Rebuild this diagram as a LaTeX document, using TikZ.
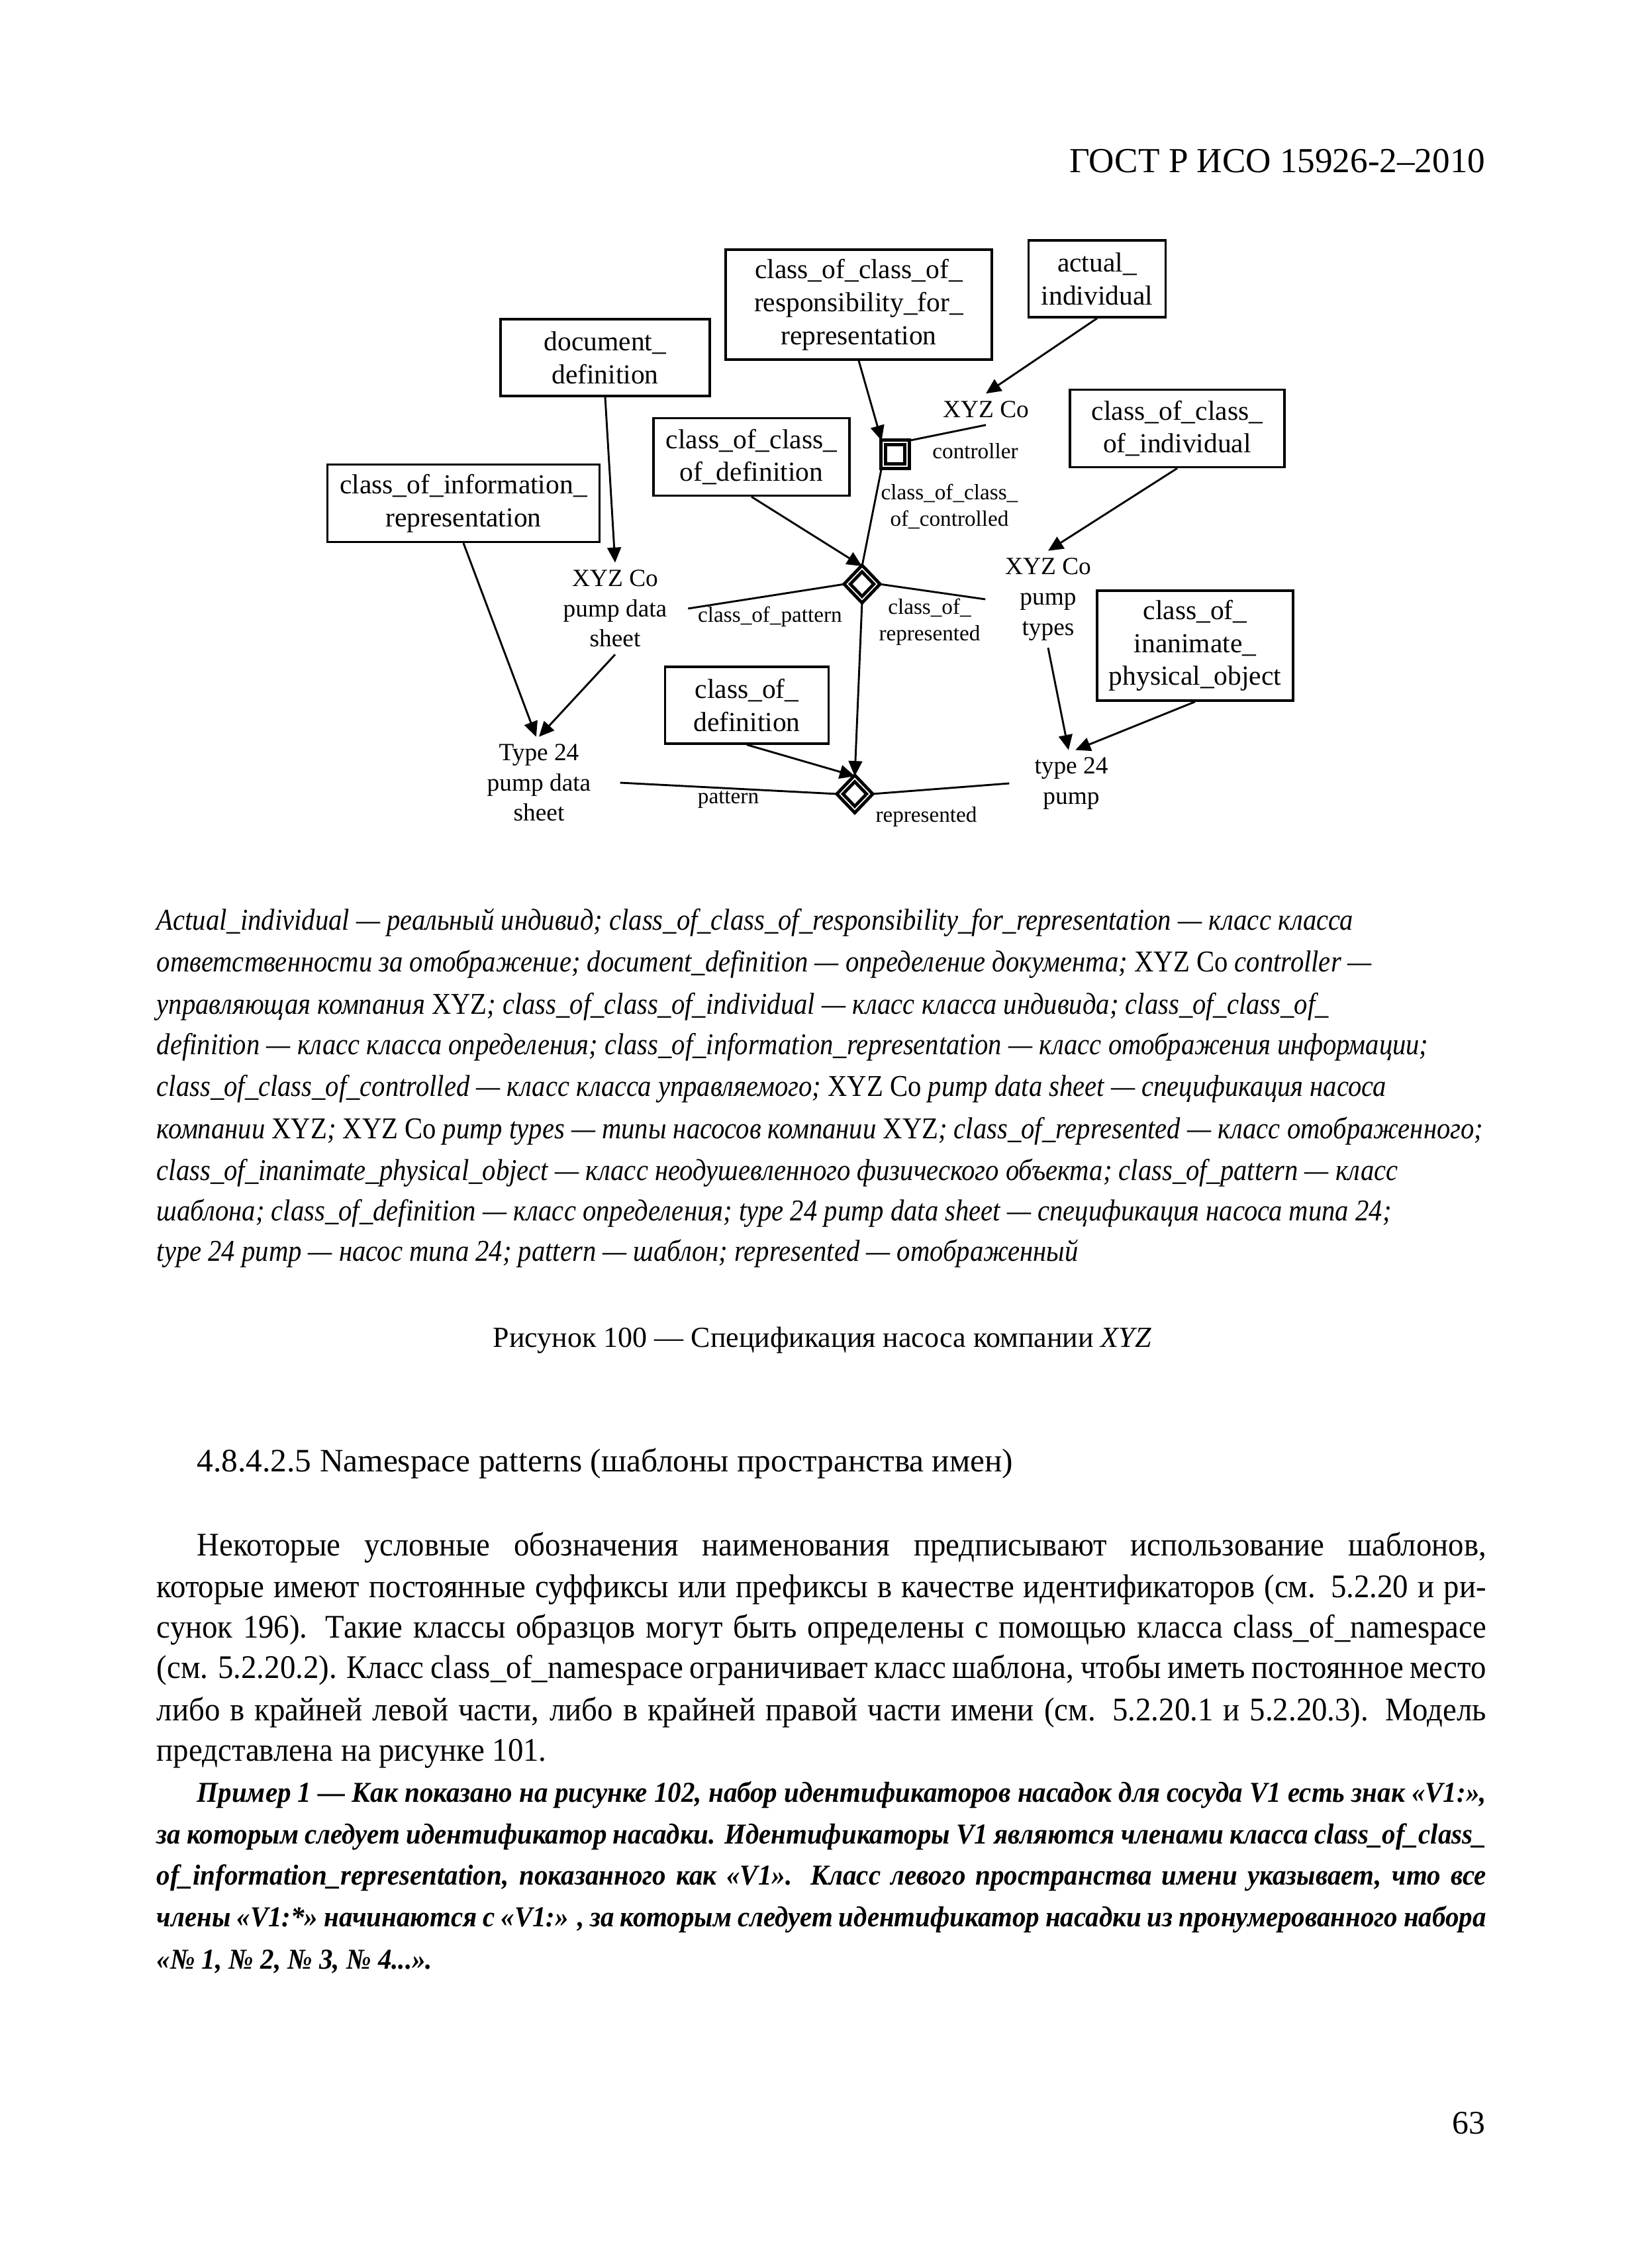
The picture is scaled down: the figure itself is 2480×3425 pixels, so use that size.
\documentclass[tikz,border=0pt]{standalone}
\usepackage{fontspec}
\setmainfont{Liberation Serif}
\newfontfamily\legfont[FakeStretch=0.89]{Liberation Serif}
\newfontfamily\bodyfont[FakeStretch=0.94]{Liberation Serif}
\usetikzlibrary{arrows.meta, shapes.geometric}
\newlength{\pxl}
\setlength{\pxl}{0.0084677cm}
\newcommand{\fullline}[2][2008]{\makebox[#1\pxl][s]{#2}}
\tikzset{
  cls/.style={draw, line width=0.8pt, align=center, inner sep=0pt, font=\fontsize{10}{12}\selectfont},
  lbl/.style={align=center, inner sep=2.5pt, font=\fontsize{9}{11}\selectfont},
  rol/.style={align=center, inner sep=1pt, font=\fontsize{8}{9.6}\selectfont},
  rel/.style={draw, double, double distance=0.4pt, line width=1.2pt, inner sep=0pt},
  arr/.style={-{Triangle[length=5.5pt, width=5pt]}, line width=0.7pt},
  lnk/.style={line width=0.7pt},
  legend/.style={anchor=base west, inner sep=0pt, font=\legfont\fontsize{11}{13}\selectfont\itshape},
  body/.style={anchor=base west, inner sep=0pt, font=\bodyfont\fontsize{12}{15}\selectfont},
  exm/.style={anchor=base west, inner sep=0pt, font=\bodyfont\fontsize{10.5}{13}\selectfont\bfseries\itshape}
}

\begin{document}
\begin{tikzpicture}[x=\pxl, y=-\pxl]
  \fill[white] (0,0) rectangle (2480,3425);
  \useasboundingbox (0,0) rectangle (2480,3425);
  \node[anchor=base east, inner sep=0pt, font=\fontsize{12.8}{15}\selectfont] (hdr) at (2244,260) {ГОСТ Р ИСО 15926-2–2010};
  % classes
  \node[cls, minimum width=402\pxl, minimum height=166\pxl] (cocrr) at (1297,460) {class\_of\_class\_of\_\\responsibility\_for\_\\representation};
  \node[cls, minimum width=316\pxl, minimum height=116\pxl] (docdef) at (914,540) {document\_\\definition};
  \node[cls, minimum width=411\pxl, minimum height=117\pxl] (coir) at (700,760) {class\_of\_information\_\\representation};
  \node[cls, minimum width=296\pxl, minimum height=117\pxl] (cocd) at (1135,690) {class\_of\_class\_\\of\_definition};
  \node[cls, minimum width=207\pxl, minimum height=116\pxl] (actual) at (1657,421) {actual\_\\individual};
  \node[cls, minimum width=324\pxl, minimum height=117\pxl] (cocoi) at (1778,647) {class\_of\_class\_\\of\_individual};
  \node[cls, minimum width=296\pxl, minimum height=166\pxl] (coipo) at (1805,975) {class\_of\_\\inanimate\_\\physical\_object};
  \node[cls, minimum width=247\pxl, minimum height=116\pxl] (cod) at (1128,1065) {class\_of\_\\definition};
  % individuals
  \node[lbl] (xyzc) at (1489,618) {XYZ Co};
  \node[lbl] (pds) at (929,919) {XYZ Co\\pump data\\sheet};
  \node[lbl] (pt) at (1583,905) {XYZ Co\\pump\\types};
  \node[lbl] (t24s) at (814,1182) {Type 24\\pump data\\sheet};
  \node[lbl] (t24p) at (1618,1183) {type 24\\pump};
  % relationships
  \node[rel, minimum size=36\pxl] (sq) at (1352,686) {};
  \node[rel, diamond, aspect=1, minimum width=47\pxl, minimum height=49\pxl] (d1) at (1302,882) {};
  \node[rel, diamond, aspect=1, minimum width=47\pxl, minimum height=49\pxl] (d2) at (1291,1199) {};
  % roles
  \node[rol] (rctl) at (1473,681) {controller};
  \node[rol] (rcctl) at (1434,765) {class\_of\_class\_\\of\_controlled};
  \node[rol] (rcpat) at (1163,931) {class\_of\_pattern};
  \node[rol] (rcrep) at (1404,939) {class\_of\_\\represented};
  \node[rol] (rpat) at (1100,1208) {pattern};
  \node[rol] (rrep) at (1399,1233) {represented};
  % connectors
  \draw[arr] (docdef.south) -- (pds.north);
  \draw[arr] (coir.south) -- ([xshift=-1pt]t24s.north);
  \draw[arr] (pds.south) -- (t24s.north);
  \draw[arr] (cocrr.south) -- (sq.north west);
  \draw[arr] (actual.south) -- (xyzc.north);
  \draw[lnk] (sq.north east) -- (xyzc.south);
  \draw[lnk] (sq.south west) -- (d1.north);
  \draw[arr] (cocd.south) -- (d1.north);
  \draw[lnk] (d1.west) -- ([xshift=5pt]pds.east);
  \draw[lnk] (d1.east) -- ([xshift=-4.5pt]pt.west);
  \draw[arr] (d1.south) -- (d2.north);
  \draw[arr] (cod.south) -- (d2.north);
  \draw[lnk] (d2.west) -- ([xshift=8pt]t24s.east);
  \draw[lnk] (d2.east) -- ([xshift=-6.5pt]t24p.west);
  \draw[arr] (cocoi.south) -- (pt.north);
  \draw[arr] (pt.south) -- ([xshift=-1pt]t24p.north);
  \draw[arr] (coipo.south) -- ([xshift=1.5pt]t24p.north);
  % legend
  \node[legend] (leg1) at (236,1404) {Actual\_individual — реальный индивид; class\_of\_class\_of\_responsibility\_for\_representation — класс класса};
  \node[legend] (leg2) at (236,1467) {ответственности за отображение; document\_definition — определение документа; {\upshape XYZ Co} controller —};
  \node[legend] (leg3) at (236,1531) {управляющая компания {\upshape XYZ}; class\_of\_class\_of\_individual — класс класса индивида; class\_of\_class\_of\_};
  \node[legend] (leg4) at (236,1592) {definition — класс класса определения; class\_of\_information\_representation — класс отображения информации;};
  \node[legend] (leg5) at (236,1655) {class\_of\_class\_of\_controlled — класс класса управляемого; {\upshape XYZ Co} pump data sheet — спецификация насоса};
  \node[legend] (leg6) at (236,1719) {компании {\upshape XYZ}; {\upshape XYZ Co} pump types — типы насосов компании {\upshape XYZ}; class\_of\_represented — класс отображенного;};
  \node[legend] (leg7) at (236,1782) {class\_of\_inanimate\_physical\_object — класс неодушевленного физического объекта; class\_of\_pattern — класс};
  \node[legend] (leg8) at (236,1843) {шаблона; class\_of\_definition — класс определения; type 24 pump data sheet — спецификация насоса типа 24;};
  \node[legend] (leg9) at (236,1904) {type 24 pump — насос типа 24; pattern — шаблон; represented — отображенный};
  \node[anchor=base, inner sep=0pt, font=\fontsize{10.6}{13}\selectfont] (cap) at (1242,2034) {Рисунок 100 — Спецификация насоса компании \textit{XYZ}};
  % text
  \node[anchor=base west, inner sep=0pt, font=\fontsize{11.9}{15}\selectfont] (head) at (297,2222) {4.8.4.2.5 Namespace patterns (шаблоны пространства имен)};
  \node[body] (par1) at (297,2349) {\fullline[1947]{Некоторые условные обозначения наименования предписывают использование шаблонов,}};
  \node[body] (par2) at (236,2412) {\fullline{которые имеют постоянные суффиксы или префиксы в качестве идентификаторов (см. 5.2.20 и ри-}};
  \node[body] (par3) at (236,2473) {\fullline{сунок 196). Такие классы образцов могут быть определены с помощью класса class\_of\_namespace}};
  \node[body] (par4) at (236,2534) {\fullline{(см. 5.2.20.2). Класс class\_of\_namespace ограничивает класс шаблона, чтобы иметь постоянное место}};
  \node[body] (par5) at (236,2598) {\fullline{либо в крайней левой части, либо в крайней правой части имени (см. 5.2.20.1 и 5.2.20.3). Модель}};
  \node[body] (par6) at (236,2659) {представлена на рисунке 101.};
  \node[exm] (ex1) at (297,2721) {\fullline[1947]{Пример 1 — Как показано на рисунке 102, набор идентификаторов насадок для сосуда V1 есть знак «V1:»,}};
  \node[exm] (ex2) at (236,2784) {\fullline{за которым следует идентификатор насадки. Идентификаторы V1 являются членами класса class\_of\_class\_}};
  \node[exm] (ex3) at (236,2846) {\fullline{of\_information\_representation, показанного как «V1». Класс левого пространства имени указывает, что все}};
  \node[exm] (ex4) at (236,2909) {\fullline{члены «V1:*» начинаются с «V1:» , за которым следует идентификатор насадки из пронумерованного набора}};
  \node[exm] (ex5) at (236,2973) {«№ 1, № 2, № 3, № 4...».};
  \node[anchor=base east, inner sep=0pt, font=\fontsize{12}{14}\selectfont] (pgno) at (2244,3222) {63};
\end{tikzpicture}
\end{document}
